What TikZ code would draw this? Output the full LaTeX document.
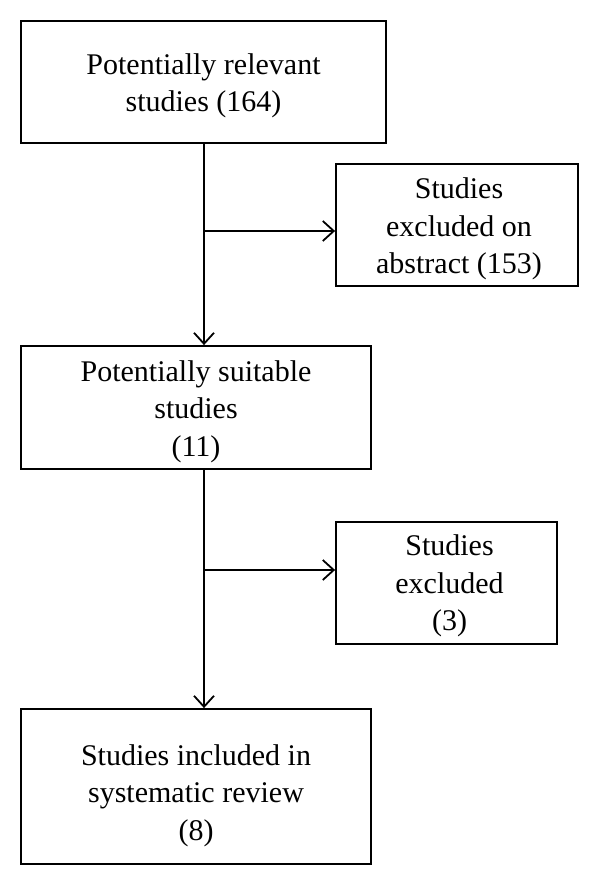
\documentclass[tikz,border=0pt]{standalone}
\usepackage{fontspec}
\setmainfont{Liberation Serif}
\usetikzlibrary{arrows.meta}
\begin{document}
\begin{tikzpicture}[x=1pt,y=-1pt,
  box/.style={draw, line width=1.8pt, rectangle, inner sep=0pt},
  txt/.style={inner sep=0pt, align=center, font=\fontsize{30}{37.5}\selectfont},
  flow/.style={line width=1.8pt, -{Straight Barb[length=11pt,width=20pt,line width=1.8pt]}}]
\useasboundingbox[fill=white] (0,0) rectangle (600,886);
\node[box, minimum width=365pt, minimum height=122pt] (b1) at (203.5,82) {};
\node[box, minimum width=242pt, minimum height=122pt] (b2) at (457,225) {};
\node[box, minimum width=350pt, minimum height=123pt] (b3) at (196,407.5) {};
\node[box, minimum width=221pt, minimum height=122pt] (b4) at (446.5,583) {};
\node[box, minimum width=350pt, minimum height=155pt] (b5) at (196,786.5) {};
\node[txt] (t1) at ([yshift=-4pt]b1.center) {Potentially relevant\\studies (164)};
\node[txt] (t2) at ([yshift=-4pt,xshift=2pt]b2.center) {Studies\\excluded on\\abstract (153)};
\node[txt] (t3) at ([yshift=-4pt]b3.center) {Potentially suitable\\studies\\(11)};
\node[txt] (t4) at ([yshift=-3pt,xshift=3pt]b4.center) {Studies\\excluded\\(3)};
\node[txt] (t5) at ([yshift=-9pt]b5.center) {Studies included in\\systematic review\\(8)};
\coordinate (spine) at (204,0);
\coordinate (j1) at (204,231);
\coordinate (j2) at (204,570);
\draw[flow] (b1.south -| spine) -- (b3.north -| spine);
\draw[flow] (b3.south -| spine) -- (b5.north -| spine);
\draw[flow] (j1) -- (j1 -| b2.west);
\draw[flow] (j2) -- (j2 -| b4.west);
\end{tikzpicture}
\end{document}
